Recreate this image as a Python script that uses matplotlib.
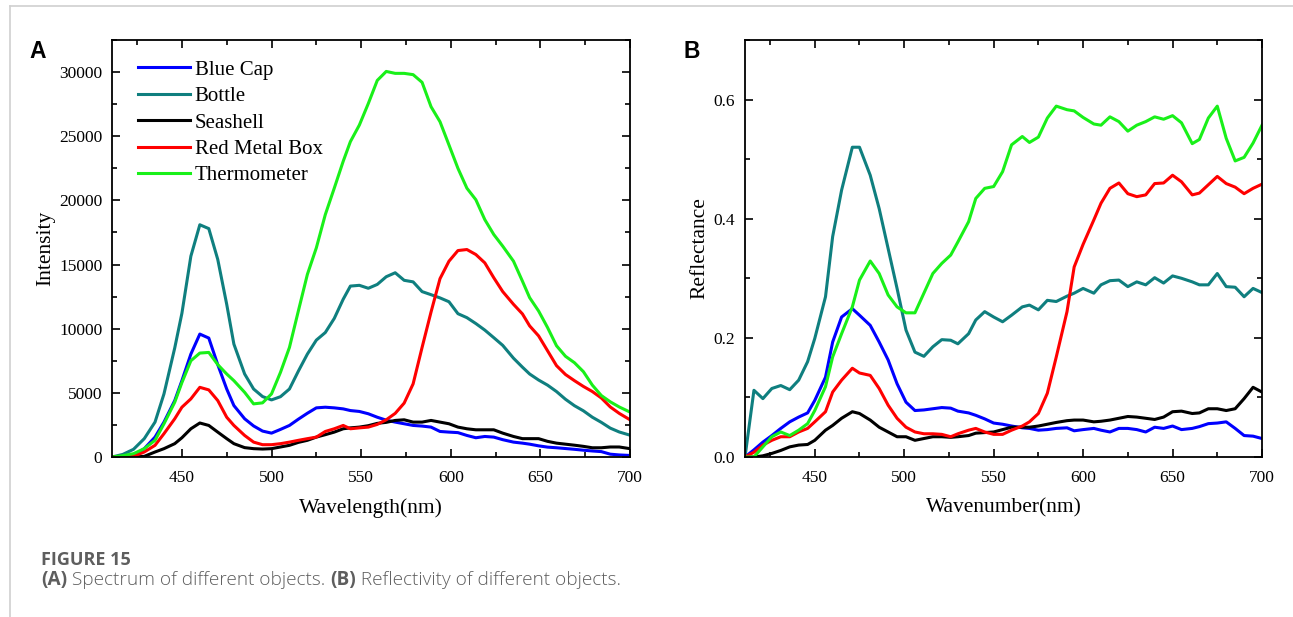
import matplotlib
matplotlib.use("Agg")
import matplotlib.pyplot as plt
from matplotlib.lines import Line2D
from matplotlib.ticker import MultipleLocator, FormatStrFormatter

# ---- data ----
names = ["Blue Cap", "Bottle", "Seashell", "Red Metal Box", "Thermometer"]
colors = ["#0000FF", "#0F7F7F", "#000000", "#FF0000", "#19F019"]

# (A) spectrum, intensity vs wavelength
wl_a = [411, 417, 423, 429, 435, 440, 446, 450, 455, 460, 465, 470, 475, 479, 485,
        490, 495, 500, 505, 510, 515, 520, 525, 530, 535, 540, 544, 549, 554, 559,
        564, 569, 574, 579, 584, 589, 594, 599, 604, 609, 614, 619, 624, 629, 635,
        640, 644, 649, 654, 659, 664, 669, 674, 679, 684, 689, 694, 700]
blue_a = [0, 30, 100, 650, 1550, 2720, 4400, 5950, 8020, 9580, 9270, 7200, 5300, 4010, 2980,
          2420, 2020, 1860, 2150, 2460, 2950, 3410, 3830, 3880, 3830, 3750, 3620, 3550, 3370, 3100,
          2870, 2720, 2590, 2460, 2410, 2330, 1990, 1940, 1900, 1680, 1500, 1600, 1550, 1350, 1160,
          1080, 1000, 870, 770, 720, 660, 600, 530, 470, 420, 220, 160, 120]
bottle_a = [0, 200, 600, 1430, 2720, 4920, 8500, 11200, 15650, 18100, 17800, 15400, 11900, 8800, 6470,
            5300, 4710, 4450, 4700, 5300, 6700, 8020, 9110, 9700, 10800, 12300, 13320, 13380, 13150, 13450,
            14050, 14360, 13770, 13650, 12890, 12650, 12400, 12100, 11170, 10860, 10400, 9890, 9300, 8700, 7700,
            7000, 6470, 6000, 5600, 5100, 4500, 4000, 3600, 3100, 2700, 2250, 1950, 1700]
shell_a = [0, 0, 0, 50, 390, 650, 1040, 1500, 2200, 2650, 2460, 1940, 1430, 1040, 730,
           650, 620, 650, 780, 910, 1140, 1300, 1550, 1740, 1940, 2200, 2270, 2330, 2440, 2620,
           2700, 2850, 2900, 2720, 2720, 2850, 2720, 2590, 2330, 2200, 2120, 2120, 2120, 1860, 1600,
           1430, 1430, 1430, 1220, 1080, 1000, 920, 830, 720, 720, 780, 780, 650]
redbox_a = [0, 0, 50, 390, 910, 1820, 2980, 3880, 4530, 5430, 5230, 4400, 3100, 2460, 1680,
            1160, 960, 960, 1040, 1160, 1300, 1430, 1550, 1990, 2200, 2460, 2200, 2270, 2330, 2540,
            2900, 3400, 4200, 5700, 8540, 11300, 13900, 15260, 16090, 16170, 15780, 15130, 13970, 12890, 11900,
            11150, 10220, 9440, 8280, 7120, 6430, 5950, 5500, 5100, 4600, 3900, 3400, 2900]
thermo_a = [0, 100, 260, 650, 1300, 2590, 4270, 5800, 7500, 8100, 8150, 7200, 6470, 5950, 5040,
            4140, 4220, 4920, 6600, 8540, 11400, 14230, 16300, 18890, 20950, 23050, 24580, 25870, 27550, 29350,
            30050, 29900, 29900, 29800, 29200, 27300, 26130, 24320, 22500, 20950, 20050, 18500, 17340, 16430, 15260,
            13700, 12420, 11380, 10090, 8670, 7850, 7350, 6650, 5600, 4790, 4300, 3900, 3500]

# (B) reflectance vs wavelength
wl_b = [411, 416, 421, 426, 431, 436, 441, 446, 450, 456, 460, 465, 471, 475, 481,
        486, 491, 496, 501, 506, 511, 516, 521, 526, 530, 536, 540, 545, 550, 555,
        560, 566, 570, 575, 580, 585, 591, 595, 600, 606, 610, 615, 620, 625, 630,
        635, 640, 645, 650, 655, 661, 665, 670, 675, 680, 685, 690, 695, 700]
blue_b = [0, .012, .025, .036, .048, .059, .067, .074, .095, .134, .193, .235, .249, .238, .221,
          .193, .163, .123, .092, .078, .079, .081, .083, .082, .077, .074, .070, .064, .057, .055,
          .052, .049, .048, .045, .046, .048, .049, .044, .046, .048, .045, .042, .048, .048, .046,
          .042, .050, .048, .052, .046, .048, .051, .056, .057, .059, .048, .036, .035, .031]
bottle_b = [0, .112, .098, .115, .120, .113, .129, .160, .199, .269, .370, .448, .520, .520, .473,
            .417, .350, .283, .213, .176, .169, .185, .197, .196, .190, .207, .230, .244, .235, .227,
            .238, .252, .255, .247, .263, .261, .270, .275, .283, .275, .289, .296, .297, .286, .294,
            .289, .301, .292, .304, .300, .294, .289, .289, .308, .286, .285, .269, .283, .276]
shell_b = [0, 0, .002, .006, .011, .017, .020, .021, .028, .045, .053, .065, .076, .073, .062,
           .050, .042, .034, .034, .028, .031, .034, .034, .033, .034, .036, .040, .041, .042, .046,
           .050, .050, .050, .052, .055, .058, .061, .062, .062, .059, .060, .062, .065, .068, .067,
           .065, .063, .067, .076, .077, .073, .074, .081, .081, .078, .081, .098, .117, .109]
redbox_b = [0, .008, .020, .028, .034, .034, .042, .048, .059, .076, .109, .129, .149, .141, .137,
            .115, .087, .065, .050, .042, .039, .039, .038, .034, .039, .045, .048, .042, .038, .038,
            .045, .052, .059, .073, .107, .168, .244, .319, .357, .398, .426, .451, .460, .442, .437,
            .440, .459, .460, .473, .462, .440, .443, .457, .471, .459, .453, .442, .451, .458]
thermo_b = [0, 0, .017, .034, .042, .036, .045, .056, .078, .118, .168, .207, .252, .297, .329,
            .308, .272, .252, .242, .242, .275, .308, .325, .339, .361, .395, .434, .451, .454, .479,
            .524, .538, .528, .537, .569, .589, .583, .581, .570, .559, .557, .571, .563, .547, .557,
            .563, .571, .567, .573, .561, .526, .533, .569, .589, .535, .497, .503, .527, .557]

series_a = [blue_a, bottle_a, shell_a, redbox_a, thermo_a]
series_b = [blue_b, bottle_b, shell_b, redbox_b, thermo_b]

plt.rcParams["font.family"] = ["Liberation Serif", "DejaVu Serif"]

W, H = 1293, 617
fig = plt.figure(figsize=(W / 100, H / 100), dpi=100)

axA = fig.add_axes([112 / W, 1 - 457 / H, 518 / W, 417 / H])
axB = fig.add_axes([745 / W, 1 - 457 / H, 517 / W, 417 / H])


def style(ax):
    for s in ax.spines.values():
        s.set_linewidth(1.3)
    ax.tick_params(which="both", direction="in", top=True, right=True, width=1.2,
                   labelsize=12.5)
    ax.tick_params(axis="x", pad=9)
    ax.tick_params(axis="y", pad=7)
    ax.tick_params(which="major", length=6)
    ax.tick_params(which="minor", length=3.5)
    ax.set_xlim(411, 700)
    ax.xaxis.set_major_locator(MultipleLocator(50))
    ax.xaxis.set_minor_locator(MultipleLocator(25))


for vals, name, c in zip(series_a, names, colors):
    axA.plot(wl_a, vals, color=c, lw=2.2, label=name)
axA.set_ylim(0, 32500)
axA.yaxis.set_major_locator(MultipleLocator(5000))
axA.yaxis.set_minor_locator(MultipleLocator(2500))
style(axA)
axA.set_xlabel("Wavelength(nm)", fontsize=15.5, labelpad=9)
axA.set_ylabel("Intensity", fontsize=15.5, labelpad=3)
axA.legend(loc="upper left", bbox_to_anchor=(0.035, 0.972), frameon=False,
           prop={"size": 15}, handlelength=2.45, handletextpad=0.25,
           labelspacing=0.33, borderaxespad=0)

for vals, name, c in zip(series_b, names, colors):
    axB.plot(wl_b, vals, color=c, lw=2.2)
axB.set_ylim(0, 0.70)
axB.yaxis.set_major_locator(MultipleLocator(0.2))
axB.yaxis.set_minor_locator(MultipleLocator(0.1))
axB.yaxis.set_major_formatter(FormatStrFormatter("%.1f"))
style(axB)
axB.set_xlabel("Wavenumber(nm)", fontsize=15.5, labelpad=9)
axB.set_ylabel("Reflectance", fontsize=15.5, labelpad=3)

# panel letters
fig.text(38 / W, 1 - 52 / H, "A", fontfamily="Liberation Sans", fontweight="bold",
         fontsize=16.5, ha="center", va="center")
fig.text(692 / W, 1 - 52 / H, "B", fontfamily="Liberation Sans", fontweight="bold",
         fontsize=16.5, ha="center", va="center")

# page frame lines
fig.add_artist(Line2D([9.5 / W, 1], [1 - 5.5 / H, 1 - 5.5 / H], color="#d0d0d0", lw=1.2))
fig.add_artist(Line2D([9.5 / W, 9.5 / W], [0, 1 - 5.5 / H], color="#d0d0d0", lw=1.2))

# caption
gray = "#5e5e5e"
fig.text(41 / W, 1 - 565 / H, "FIGURE 15", fontfamily="Open Sans", fontweight="bold",
         fontsize=13, color=gray, va="baseline")
fig.canvas.draw()
renderer = fig.canvas.get_renderer()
pieces = [("(A)", "bold"), (" Spectrum of different objects. ", "light"),
          ("(B)", "bold"), (" Reflectivity of different objects.", "light")]
x = 41
for txt, wt in pieces:
    t = fig.text(x / W, 1 - 585 / H, txt, fontfamily="Open Sans", fontweight=wt,
                 fontsize=13.7, color=gray, va="baseline")
    x = t.get_window_extent(renderer).x1

fig.savefig("out.png", dpi=100)
